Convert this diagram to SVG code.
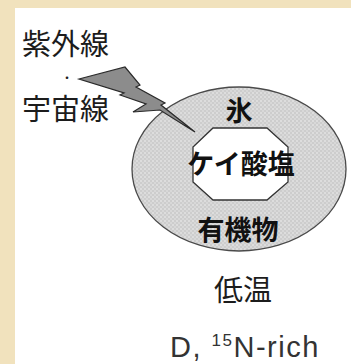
<svg xmlns="http://www.w3.org/2000/svg" width="351" height="364" viewBox="0 0 351 364">
  <defs>
    <pattern id="dots" width="4" height="4" patternUnits="userSpaceOnUse">
      <rect width="4" height="4" fill="#cdcdcd"/>
      <circle cx="1" cy="1" r="0.8" fill="#f2f2f2"/>
      <circle cx="3" cy="3" r="0.8" fill="#e6e6e6"/>
    </pattern>
    <style>
      .jp { font-family: "Noto Sans CJK JP", "Noto Sans", sans-serif; fill: #1c1c1c; }
      .label { font-size: 29px; font-weight: 400; }
      .bold { font-size: 27px; font-weight: 700; text-anchor: middle; fill: #111; }
      .latin { font-family: "Liberation Sans", Arial, sans-serif; fill: #333; }
    </style>
  </defs>

  <!-- parchment frame and white panel -->
  <rect width="351" height="364" fill="#f1e2bd"/>
  <rect x="15" y="8" width="336" height="356" fill="#ffffff"/>

  <!-- grain: outer ice mantle with silicate core -->
  <g id="grain">
    <ellipse cx="239" cy="169" rx="107" ry="82" fill="url(#dots)" stroke="#4a4a4a" stroke-width="1.3"/>
    <polygon points="213,128 267,128 288,147 288,182 267,200 213,200 193,182 193,147" fill="#ffffff" stroke="#333" stroke-width="1.3"/>
  </g>

  <!-- radiation bolt -->
  <g id="connectors">
    <polygon id="bolt" points="79,79 125,67 140,85 136,87 165,103 161,105 195,132 160,110 133,112 146,104 120,95 124,93" fill="#8c8c8c" stroke="#2a2a2a" stroke-width="1.2" stroke-linejoin="miter"/>
  </g>

  <g id="radiation-label">
    <text class="jp label" x="22" y="55">紫外線</text>
    <text class="jp" x="67" y="83" font-size="12" text-anchor="middle">・</text>
    <text class="jp label" x="22" y="120">宇宙線</text>
  </g>

  <g id="layer-labels">
    <text class="jp bold" x="239" y="121" font-size="25">氷</text>
    <text class="jp bold" x="241" y="174">ケイ酸塩</text>
    <text class="jp bold" x="238" y="240">有機物</text>
  </g>

  <g id="conditions">
    <text class="jp" x="243" y="301" font-size="29" text-anchor="middle">低温</text>
    <text class="latin" x="170" y="357" font-size="29" letter-spacing="1.5">D, <tspan font-size="17" dy="-11">15</tspan><tspan dy="11">N-rich</tspan></text>
  </g>
</svg>
